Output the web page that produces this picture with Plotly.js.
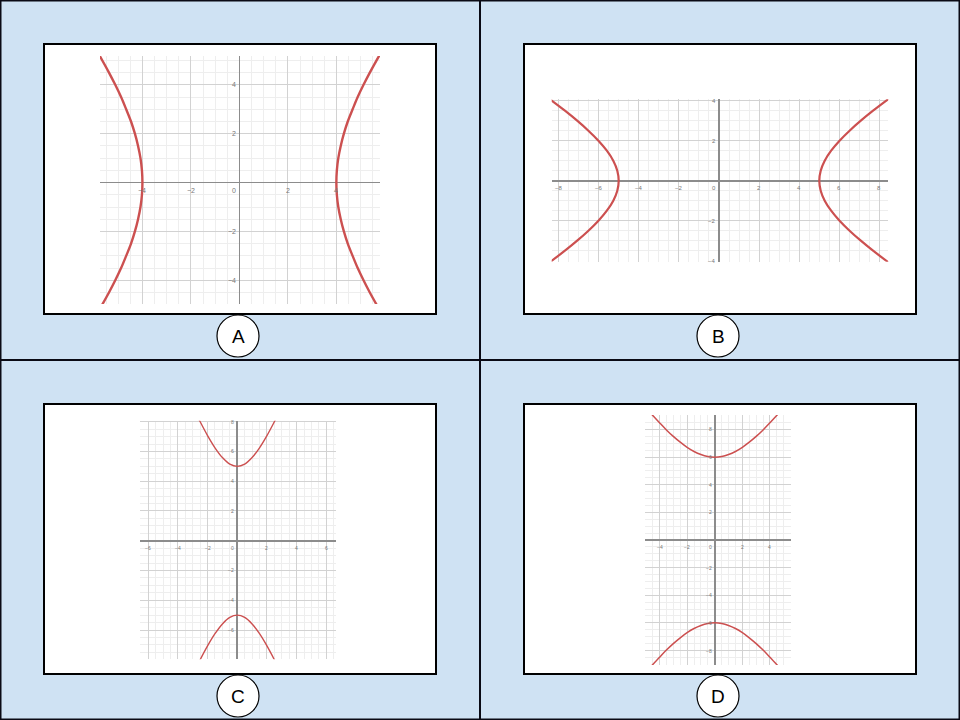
<!DOCTYPE html>
<html>
<head>
<meta charset="utf-8">
<script src="https://cdn.plot.ly/plotly-3.0.1.min.js"></script>
<style>html,body{margin:0;padding:0;background:#cfe2f3;}#chart{width:960px;height:720px;}</style>
</head>
<body>
<div id="chart"></div>
<script>
// ---- Data ----
// Panel A: horizontal hyperbola, vertices at x = ±4
const aY      = [5.2, 4.5, 4, 3.5, 3, 2.5, 2, 1.5, 1, 0.5, 0, -0.5, -1, -1.5, -2, -2.5, -3, -3.5, -4, -4.5, -5];
const aXRight = [5.77, 5.38, 5.12, 4.88, 4.67, 4.47, 4.31, 4.18, 4.08, 4.02, 4, 4.02, 4.08, 4.18, 4.31, 4.47, 4.67, 4.88, 5.12, 5.38, 5.66];
const aXLeft  = [-5.77, -5.38, -5.12, -4.88, -4.67, -4.47, -4.31, -4.18, -4.08, -4.02, -4, -4.02, -4.08, -4.18, -4.31, -4.47, -4.67, -4.88, -5.12, -5.38, -5.66];
const aTicksX = [-4, -2, 0, 2, 4];
const aTicksY = [4, 2, -2, -4];

// Panel B: horizontal hyperbola, vertices at x = ±5
const bY      = [4.1, 3.5, 3, 2.5, 2, 1.5, 1, 0.5, 0, -0.5, -1, -1.5, -2, -2.5, -3, -3.5, -4.1];
const bXRight = [8.47, 7.68, 7.07, 6.51, 6.01, 5.59, 5.27, 5.07, 5, 5.07, 5.27, 5.59, 6.01, 6.51, 7.07, 7.68, 8.47];
const bXLeft  = [-8.47, -7.68, -7.07, -6.51, -6.01, -5.59, -5.27, -5.07, -5, -5.07, -5.27, -5.59, -6.01, -6.51, -7.07, -7.68, -8.47];
const bTicksX = [-8, -6, -4, -2, 0, 2, 4, 6, 8];
const bTicksY = [4, 2, -2, -4];

// Panel C: vertical hyperbola, vertices at y = ±5
const cX      = [-2.6, -2.5, -2, -1.5, -1, -0.5, 0, 0.5, 1, 1.5, 2, 2.5, 2.6];
const cYUpper = [8.2, 8.0, 7.07, 6.25, 5.59, 5.15, 5, 5.15, 5.59, 6.25, 7.07, 8.0, 8.2];
const cYLower = [-8.2, -8.0, -7.07, -6.25, -5.59, -5.15, -5, -5.15, -5.59, -6.25, -7.07, -8.0, -8.2];
const cTicksX = [-6, -4, -2, 0, 2, 4, 6];
const cTicksY = [8, 6, 4, 2, -2, -4, -6, -8];

// Panel D: vertical hyperbola, vertices at y = ±6
const dX      = [-4.6, -4, -3.5, -3, -2.5, -2, -1.5, -1, -0.5, 0, 0.5, 1, 1.5, 2, 2.5, 3, 3.5, 4, 4.6];
const dYUpper = [9.14, 8.49, 7.97, 7.5, 7.08, 6.71, 6.41, 6.19, 6.05, 6, 6.05, 6.19, 6.41, 6.71, 7.08, 7.5, 7.97, 8.49, 9.14];
const dYLower = [-9.14, -8.49, -7.97, -7.5, -7.08, -6.71, -6.41, -6.19, -6.05, -6, -6.05, -6.19, -6.41, -6.71, -7.08, -7.5, -7.97, -8.49, -9.14];
const dTicksX = [-4, -2, 0, 2, 4];
const dTicksY = [8, 6, 4, 2, -2, -4, -6, -8];

const panelLabels = ['A', 'B', 'C', 'D'];

// ---- Styling / layout ----
const W = 960, H = 720;
const px = v => v / W;
const py = v => 1 - v / H;
const RED = '#cc5050';

function curve(x, y, xa, ya, w) {
  return {x: x, y: y, xaxis: xa, yaxis: ya, type: 'scatter', mode: 'lines',
          line: {color: RED, width: w, shape: 'spline', smoothing: 1},
          hoverinfo: 'skip', showlegend: false, cliponaxis: true};
}

const traces = [
  curve(aXRight, aY, 'x', 'y', 2.4),
  curve(aXLeft, aY, 'x', 'y', 2.4),
  curve(bXRight, bY, 'x2', 'y2', 2.2),
  curve(bXLeft, bY, 'x2', 'y2', 2.2),
  curve(cX, cYUpper, 'x3', 'y3', 1.4),
  curve(cX, cYLower, 'x3', 'y3', 1.4),
  curve(dX, dYUpper, 'x4', 'y4', 1.5),
  curve(dX, dYLower, 'x4', 'y4', 1.5)
];

function axis(range, domain, anchor) {
  return {
    range: range, domain: domain, anchor: anchor,
    showgrid: true, gridcolor: '#d2d2d2', gridwidth: 1,
    tick0: 0, dtick: 2,
    minor: {tick0: 0, dtick: 0.5, showgrid: true, gridcolor: '#eeeeee', gridwidth: 1},
    zeroline: true, zerolinecolor: '#8c8c8c', zerolinewidth: 1.6,
    showticklabels: false, ticks: '', showline: false, fixedrange: true
  };
}

const layout = {
  width: W, height: H,
  margin: {l: 0, r: 0, t: 0, b: 0},
  paper_bgcolor: '#cfe2f3',
  plot_bgcolor: 'rgba(0,0,0,0)',
  showlegend: false,
  xaxis:  axis([-5.75, 5.8],  [px(100), px(380)], 'y'),
  yaxis:  axis([-4.97, 5.18], [py(304), py(56)], 'x'),
  xaxis2: axis([-8.34, 8.44], [px(551.7), px(888.3)], 'y2'),
  yaxis2: axis([-4.05, 4.07], [py(261.7), py(99.3)], 'x2'),
  xaxis3: axis([-6.55, 6.65], [px(140), px(336)], 'y3'),
  yaxis3: axis([-7.97, 8.07], [py(659.3), py(420.7)], 'x3'),
  xaxis4: axis([-5.05, 5.5],  [px(645), px(790.7)], 'y4'),
  yaxis4: axis([-9.05, 9.05], [py(665), py(415)], 'x4'),
  shapes: [],
  annotations: []
};

// white boxes with black borders
const boxes = [[44, 44, 436, 314], [524, 44, 916, 314], [44, 404, 436, 674], [524, 404, 916, 674]];
boxes.forEach(b => layout.shapes.push({type: 'rect', xref: 'paper', yref: 'paper', layer: 'below',
  x0: px(b[0]), x1: px(b[2]), y0: py(b[3]), y1: py(b[1]),
  fillcolor: '#ffffff', line: {color: '#000000', width: 2}}));
// dividers and outer frame
layout.shapes.push({type: 'line', xref: 'paper', yref: 'paper', x0: px(480), x1: px(480), y0: 0, y1: 1, line: {color: '#0a0a14', width: 2}});
layout.shapes.push({type: 'line', xref: 'paper', yref: 'paper', x0: 0, x1: 1, y0: py(360), y1: py(360), line: {color: '#0a0a14', width: 2}});
layout.shapes.push({type: 'rect', xref: 'paper', yref: 'paper', x0: 0, x1: 1, y0: 0, y1: 1, line: {color: '#0a0a14', width: 3}});

// label circles
const centers = [[238, 336], [718, 336], [238, 696], [718, 696]];
centers.forEach((c, i) => {
  layout.shapes.push({type: 'circle', xref: 'paper', yref: 'paper',
    x0: px(c[0] - 21), x1: px(c[0] + 21), y0: py(c[1] + 21), y1: py(c[1] - 21),
    fillcolor: '#ffffff', line: {color: '#000000', width: 1.2}});
  layout.annotations.push({xref: 'paper', yref: 'paper', x: px(c[0]), y: py(c[1]),
    text: panelLabels[i], showarrow: false, xanchor: 'center', yanchor: 'middle',
    font: {family: 'Liberation Sans, Arial, sans-serif', size: 19, color: '#000000'}});
});

// small tick labels along the zero lines
function tickLabels(xs, ys, xa, ya, size) {
  xs.forEach(v => layout.annotations.push({xref: xa, yref: ya, x: v, y: 0, text: String(v).replace('-', '\u2212'),
    showarrow: false, xanchor: v === 0 ? 'right' : 'center', yanchor: 'top', yshift: -2, xshift: v === 0 ? -1 : 0,
    font: {family: 'Liberation Sans, Arial, sans-serif', size: size, color: '#777777'}}));
  ys.forEach(v => layout.annotations.push({xref: xa, yref: ya, x: 0, y: v, text: String(v).replace('-', '\u2212'),
    showarrow: false, xanchor: 'right', yanchor: 'middle', xshift: -1,
    font: {family: 'Liberation Sans, Arial, sans-serif', size: size, color: '#777777'}}));
}
tickLabels(aTicksX, aTicksY, 'x', 'y', 7);
tickLabels(bTicksX, bTicksY, 'x2', 'y2', 6);
tickLabels(cTicksX, cTicksY, 'x3', 'y3', 5);
tickLabels(dTicksX, dTicksY, 'x4', 'y4', 5);

Plotly.newPlot('chart', traces, layout, {staticPlot: true, displayModeBar: false});
</script>
</body>
</html>
